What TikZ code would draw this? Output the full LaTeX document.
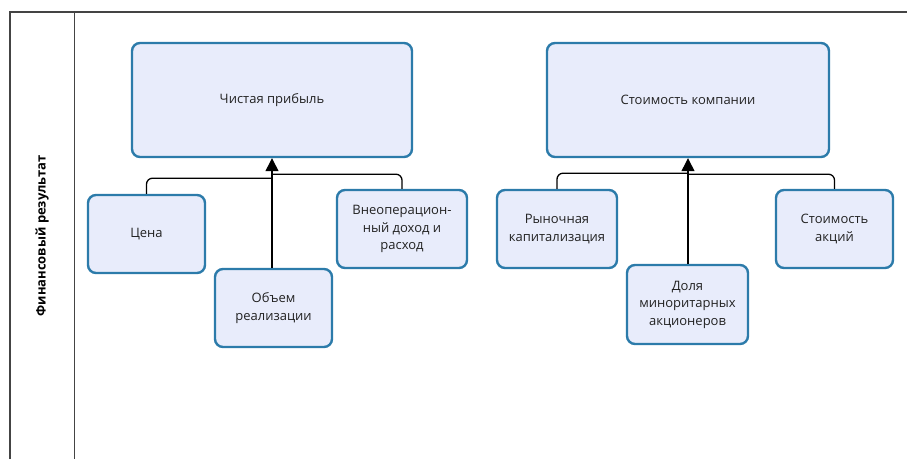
\documentclass[tikz,border=0pt]{standalone}
\usepackage{fontspec}
\setmainfont{Open Sans}
\usetikzlibrary{arrows.meta}
\definecolor{boxfill}{HTML}{E8ECFB}
\definecolor{boxline}{HTML}{2C7BAA}
\definecolor{txt}{HTML}{222222}
\definecolor{frame}{HTML}{444444}
\tikzset{
  box/.style={draw=boxline, line width=2.4pt, fill=boxfill, rounded corners=8pt,
    align=center, text=txt, font=\fontsize{13}{17.5}\selectfont, inner sep=2pt},
  conn/.style={draw=black, line width=1.3pt, rounded corners=6pt},
  arr/.style={conn, -{Triangle[width=13pt,length=13pt]}},
  frm/.style={draw=frame, line width=1.4pt}
}
\begin{document}
\begin{tikzpicture}[x=1pt,y=-1pt]
\useasboundingbox (0,0) rectangle (907,459);
% frame
\draw[frm] (10,459) -- (10,12) -- (907,12);
\draw[frm] (74.5,12) -- (74.5,459);
\node[rotate=90, font=\fontsize{13}{15}\selectfont\bfseries, text=black] (lane) at (42,236) {Финансовый результат};
% top boxes
\node[box, minimum width=280, minimum height=114] (np) at (272,100) {Чистая прибыль};
\node[box, minimum width=282, minimum height=114] (sk) at (688,100) {Стоимость компании};
% left children
\node[box, minimum width=117, minimum height=78] (cena) at (146.5,234) {Цена};
\node[box, minimum width=117, minimum height=78] (obj) at (273.5,308) {Объем\\реализации};
\node[box, minimum width=130, minimum height=78] (vne) at (402,229) {Внеоперацион-\\ный доход и\\расход};
% right children
\node[box, minimum width=120, minimum height=78] (ryn) at (557,229) {Рыночная\\капитализация};
\node[box, minimum width=121, minimum height=79] (dol) at (687.5,304.5) {Доля\\миноритарных\\акционеров};
\node[box, minimum width=117, minimum height=78] (sa) at (834.5,229) {Стоимость\\акций};
% junctions
\path (np.south) ++(0,20) coordinate (jl1);
\path (np.south) ++(0,16) coordinate (jl2);
\path (sk.south) ++(0,15) coordinate (jr1);
\path (sk.south) ++(0,16) coordinate (jr2);
% connectors left
\draw[arr] (obj.north -| np.south) -- (np.south);
\draw[conn] (cena.north) |- (jl1);
\draw[conn] (vne.north) |- (jl2);
% connectors right
\draw[arr] (dol.north -| sk.south) -- (sk.south);
\draw[conn] (ryn.north) |- (jr1);
\draw[conn] (sa.north) |- (jr2);
\end{tikzpicture}
\end{document}
